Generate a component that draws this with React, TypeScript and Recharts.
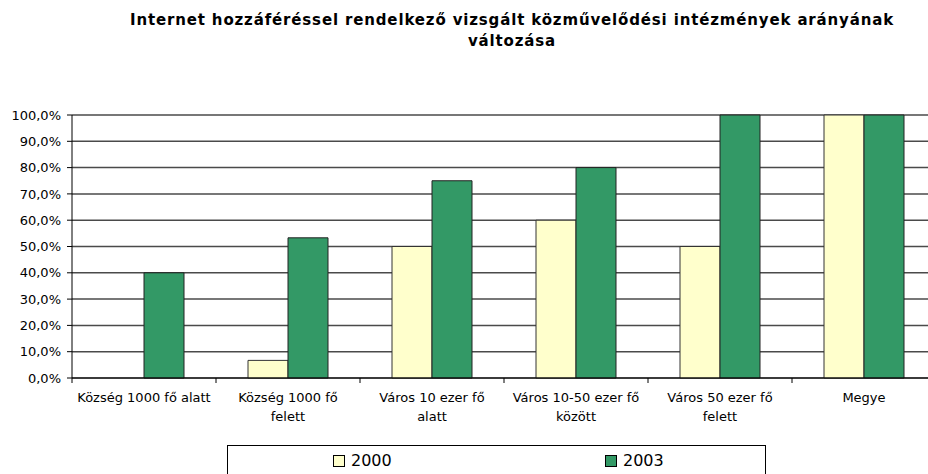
import { BarChart, Bar, XAxis, YAxis, CartesianGrid } from 'recharts';

const categories = [
  'Község 1000 fő alatt',
  'Község 1000 fő felett',
  'Város 10 ezer fő alatt',
  'Város 10-50 ezer fő között',
  'Város 50 ezer fő felett',
  'Megye',
];
const labelLines = [
  ['Község 1000 fő alatt'],
  ['Község 1000 fő', 'felett'],
  ['Város 10 ezer fő', 'alatt'],
  ['Város 10-50 ezer fő', 'között'],
  ['Város 50 ezer fő', 'felett'],
  ['Megye'],
];
const values2000 = [0, 6.7, 50, 60, 50, 100];
const values2003 = [40, 53.3, 75, 80, 100, 100];
const yTicks = [0, 10, 20, 30, 40, 50, 60, 70, 80, 90, 100];

const data = categories.map((name, i) => ({
  name,
  y2000: values2000[i],
  y2003: values2003[i],
}));

const font = '"DejaVu Sans", Verdana, sans-serif';

const CategoryTick = (props: any) => {
  const { x, y, payload, index } = props;
  const half = payload?.offset ?? 72;
  const lines = labelLines[index] || [payload.value];
  return (
    <g>
      <line x1={x - half} x2={x - half} y1={y - 8} y2={y - 3} stroke='#000' />
      {lines.map((l: string, i: number) => (
        <text
          key={i}
          x={x}
          y={y + 16 + i * 19}
          textAnchor='middle'
          fontSize={13}
          fontFamily={font}
          fill='#000'
        >
          {l}
        </text>
      ))}
    </g>
  );
};

const LegendBox = ({ color }: { color: string }) => (
  <span
    style={{
      display: 'inline-block',
      width: 10,
      height: 10,
      background: color,
      border: '1px solid #000',
      marginRight: 6,
      verticalAlign: 'middle',
      position: 'relative',
      top: -1,
    }}
  />
);

export default function App() {
  return (
    <div
      style={{
        position: 'absolute',
        left: 0,
        top: 0,
        width: 928,
        height: 474,
        overflow: 'hidden',
        background: '#fff',
      }}
    >
      <div
        style={{
          position: 'absolute',
          left: 0,
          top: 10,
          width: 1024,
          textAlign: 'center',
          fontFamily: font,
          fontWeight: 'bold',
          fontSize: 15,
          letterSpacing: 0.85,
          lineHeight: '21px',
        }}
      >
        Internet hozzáféréssel rendelkező vizsgált közművelődési intézmények arányának
        <br />
        változása
      </div>
      <div style={{ position: 'absolute', left: 0, top: 0 }}>
        <BarChart
          width={940}
          height={474}
          data={data}
          margin={{ top: 115, right: 4, left: 0, bottom: 0 }}
          barGap={0}
          barSize={40}
        >
          <CartesianGrid vertical={false} stroke='#4a4a4a' strokeWidth={1.5} />
          <XAxis
            dataKey='name'
            height={96}
            interval={0}
            axisLine={{ stroke: '#000' }}
            tickLine={false}
            tick={<CategoryTick />}
          />
          <YAxis
            width={72}
            domain={[0, 100]}
            ticks={yTicks}
            interval={0}
            axisLine={{ stroke: '#000' }}
            tickLine={{ stroke: '#000' }}
            tickSize={5}
            tickMargin={6}
            tickFormatter={(v: number) => `${v.toFixed(1).replace('.', ',')}%`}
            tick={{ fontSize: 13, fontFamily: font, fill: '#000' }}
          />
          <Bar
            dataKey='y2000'
            fill='#FFFFCC'
            stroke='#333'
            strokeWidth={1}
            isAnimationActive={false}
          />
          <Bar
            dataKey='y2003'
            fill='#339966'
            stroke='#222'
            strokeWidth={1}
            isAnimationActive={false}
          />
        </BarChart>
      </div>
      <div
        style={{
          position: 'absolute',
          left: 227,
          top: 445,
          width: 539,
          height: 40,
          border: '1px solid #000',
          boxSizing: 'border-box',
          fontFamily: font,
          fontSize: 16,
        }}
      >
        <span style={{ position: 'absolute', left: 105, top: 5 }}>
          <LegendBox color='#FFFFCC' />
          2000
        </span>
        <span style={{ position: 'absolute', left: 377, top: 5 }}>
          <LegendBox color='#339966' />
          2003
        </span>
      </div>
    </div>
  );
}
